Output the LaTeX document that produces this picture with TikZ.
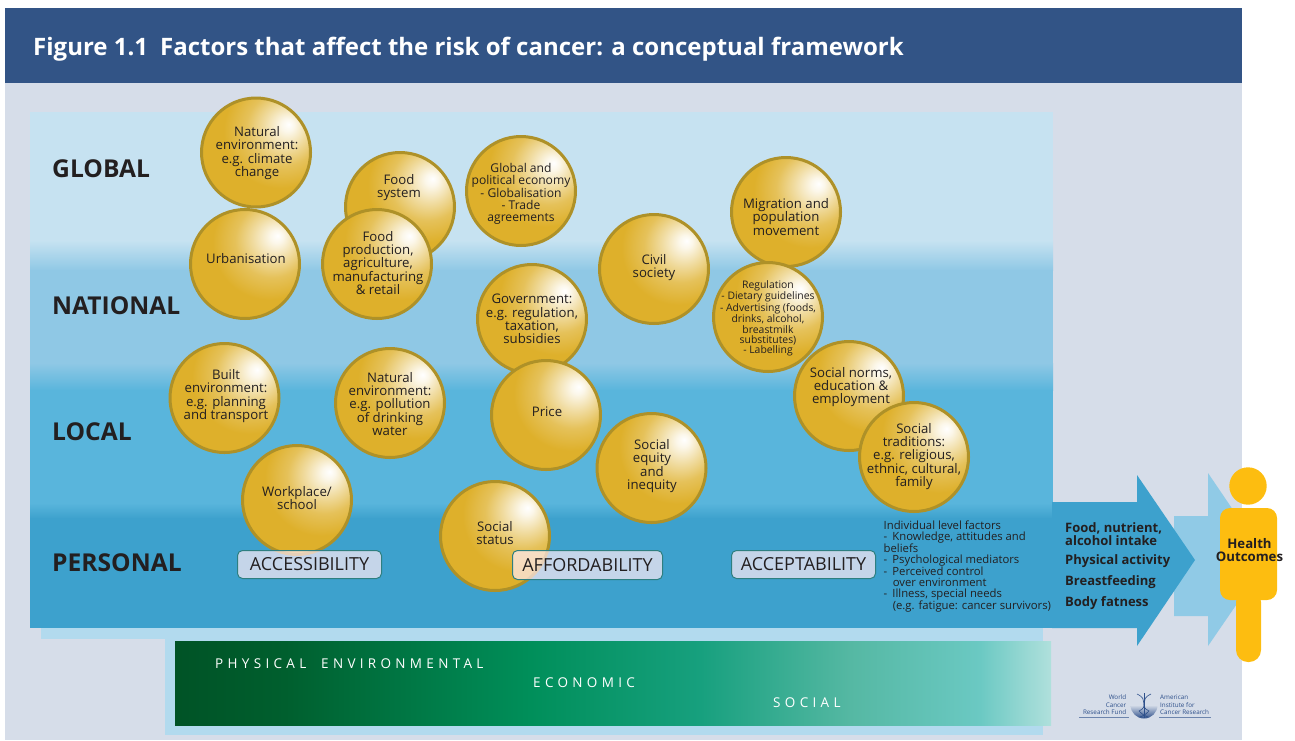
\documentclass[tikz,border=0pt]{standalone}
\usepackage{fontspec}
\setmainfont{Open Sans}
\newfontfamily\spaced[LetterSpace=32]{Open Sans}
\usetikzlibrary{shadings}
\definecolor{pagebg}{HTML}{D6DDE9}
\definecolor{headblue}{HTML}{325486}
\definecolor{skyA}{HTML}{C6E2F1}
\definecolor{skyB}{HTML}{8FC8E5}
\definecolor{skyC}{HTML}{59B5DC}
\definecolor{skyD}{HTML}{3DA1CD}
\definecolor{offsetblue}{HTML}{B2DAEE}
\definecolor{lightarrow}{HTML}{90CAE6}
\definecolor{ballfill}{HTML}{DEB02B}
\definecolor{ballline}{HTML}{AE9128}
\definecolor{ink}{HTML}{231F20}
\definecolor{person}{HTML}{FDBD10}
\definecolor{tagfill}{HTML}{FFECF6}
\definecolor{tagline}{HTML}{2E7F80}
\definecolor{gA}{HTML}{005326}
\definecolor{gB}{HTML}{005F2E}
\definecolor{gC}{HTML}{008F5A}
\definecolor{gD}{HTML}{17A07E}
\definecolor{gE}{HTML}{55B8A3}
\definecolor{gF}{HTML}{6BC9C3}
\definecolor{gG}{HTML}{B0E0DC}
\definecolor{logoblue}{HTML}{2D4F8A}
\pgfdeclareradialshading{goldball}{\pgfpoint{15bp}{13bp}}{%
  color(0bp)=(white);
  color(3bp)=(white!90!ballfill);
  color(10bp)=(white!55!ballfill);
  color(17bp)=(white!22!ballfill);
  color(26bp)=(ballfill);
  color(100bp)=(ballfill)}
\tikzset{
  ball/.style={circle,draw=ballline,line width=3pt,shading=goldball,minimum size=109pt,inner sep=0pt,outer sep=0pt},
  balltext/.style={align=center,text=ink,font=\fontsize{13.2}{13.4}\selectfont,inner sep=0pt},
  smalltext/.style={align=center,text=ink,font=\fontsize{12.1}{12}\selectfont,inner sep=0pt},
  tinytext/.style={align=center,text=ink,font=\fontsize{10.4}{10.35}\selectfont,inner sep=0pt},
  level/.style={anchor=west,text=ink,font=\fontsize{24.6}{25}\selectfont\bfseries,inner sep=0pt},
  tag/.style={draw=tagline,fill=tagfill,fill opacity=0.7,text opacity=1,rounded corners=5pt,line width=1pt,text=ink,font=\fontsize{18}{18}\selectfont,inner sep=0pt},
  outcome/.style={anchor=west,align=left,text=ink,font=\fontsize{13}{12.6}\selectfont\bfseries,inner sep=0pt},
  band/.style={anchor=west,text=white,font=\fontsize{13.5}{14}\spaced,inner sep=0pt},
  logotext/.style={text=logoblue,font=\fontsize{6.3}{7.6}\selectfont,inner sep=0pt},
}
\newcommand{\goldball}[7][balltext]{%
  \node[ball] (#2) at (#3,#4) {};
  \node[#1] (#2-text) at (#5,#6+1) {#7};
}
\begin{document}
\begin{tikzpicture}[x=1pt,y=-1pt]
\useasboundingbox (0,0) rectangle (1295,740);
% page
\fill[pagebg] (5,83) rectangle (1242,740);
\fill[headblue] (5,8) rectangle (1242,83);
\node[anchor=base west,text=white,font=\fontsize{24}{24}\selectfont\bfseries,inner sep=0pt] (title) at (33,55)
  {Figure 1.1\hspace{0.5em}Factors that affect the risk of cancer: a conceptual framework};
% offset bands behind panel
\fill[offsetblue] (41,120) rectangle (1043,639);
\fill[offsetblue] (165,630) rectangle (1043,735);
% panel
\fill[skyA] (30,112) rectangle (1053,241);
\shade[top color=skyA,bottom color=skyB] (30,240.5) rectangle (1053,270.5);
\fill[skyB] (30,270) rectangle (1053,363.5);
\shade[top color=skyB,bottom color=skyC] (30,363) rectangle (1053,390.5);
\fill[skyC] (30,390) rectangle (1053,503.5);
\shade[top color=skyC,bottom color=skyD] (30,503) rectangle (1053,518.5);
\fill[skyD] (30,518) rectangle (1053,628);
% arrows
\fill[lightarrow] (1174,516) -- (1208,516) -- (1208,473) -- (1267,560) -- (1208,646) -- (1208,616) -- (1174,616) -- cycle;
\fill[skyD] (1052,502) -- (1137,502) -- (1137,475) -- (1195,560) -- (1137,646) -- (1137,628) -- (1052,628) -- cycle;
% colour bar
\shade[left color=gA,right color=gB] (175,641) rectangle (285.5,725);
\shade[left color=gB,right color=gC] (285,641) rectangle (530.5,725);
\shade[left color=gC,right color=gD] (530,641) rectangle (700.5,725);
\shade[left color=gD,right color=gE] (700,641) rectangle (850.5,725);
\shade[left color=gE,right color=gF] (850,641) rectangle (980.5,725);
\shade[left color=gF,right color=gG] (980,641) rectangle (1051,725);
\node[band] (physical) at (215,664) {PHYSICAL\hspace{1.1em}ENVIRONMENTAL};
\node[band] (economic) at (533,683) {ECONOMIC};
\node[band] (social) at (773,703) {SOCIAL};
% levels
\node[level] (global) at (52,169) {GLOBAL};
\node[level] (national) at (52,306) {NATIONAL};
\node[level] (local) at (52,432) {LOCAL};
\node[level] (personal) at (52,563) {PERSONAL};
% balls
\goldball{foodsystem}{400}{207}{399}{186.5}{Food\\system}
\goldball{naturalglobal}{256}{152.5}{257}{152}{Natural\\environment:\\e.g. climate\\change}
\goldball{urban}{245}{264}{246}{258}{Urbanisation}
\goldball{foodprod}{377}{264}{378}{262}{Food\\production,\\agriculture,\\manufacturing\\\& retail}
\goldball[smalltext]{globalecon}{521}{191}{521}{193}{Global and\\political economy\\- Globalisation\\- Trade\\agreements}
\goldball{civil}{654}{269}{654}{266.5}{Civil\\society}
\goldball{migration}{786}{212}{786}{216}{Migration and\\population\\movement}
\goldball{government}{532}{319}{532}{318}{Government:\\e.g. regulation,\\taxation,\\subsidies}
\goldball[tinytext]{regulation}{768}{317}{768}{317.5}{Regulation\\- Dietary guidelines\\- Advertising (foods,\\drinks, alcohol,\\breastmilk\\substitutes)\\- Labelling}
\goldball{norms}{849}{396}{851}{386}{Social norms,\\education \&\\employment}
\goldball{traditions}{914}{457}{914}{455.5}{Social\\traditions:\\e.g. religious,\\ethnic, cultural,\\family}
\goldball{built}{224.5}{398}{226}{395}{Built\\environment:\\e.g. planning\\and transport}
\goldball{naturallocal}{390}{403}{390}{403}{Natural\\environment:\\e.g. pollution\\of drinking\\water}
\goldball{price}{546}{415}{547}{411}{Price}
\goldball{equity}{651.5}{468}{652}{465}{Social\\equity\\and\\inequity}
\goldball{workplace}{297}{500}{297}{497}{Workplace/\\school}
\goldball{status}{495}{536}{495}{532}{Social\\status}
% tags
\node[tag,minimum width=144pt,minimum height=28pt] (accessibility) at (309.5,564.5) {ACCESSIBILITY};
\node[tag,minimum width=150pt,minimum height=29pt] (affordability) at (587.5,565) {AFFORDABILITY};
\node[tag,minimum width=144pt,minimum height=28pt] (acceptability) at (803.5,564.5) {ACCEPTABILITY};
% individual factors
\node[anchor=north west,align=left,text=ink,font=\fontsize{11.3}{11.42}\selectfont,inner sep=0pt] (individual) at (883.5,520.5)
  {Individual level factors\\
   -\hspace{0.45em}Knowledge, attitudes and\\
   beliefs\\
   -\hspace{0.45em}Psychological mediators\\
   -\hspace{0.45em}Perceived control\\
   \hspace*{0.8em}over environment\\
   -\hspace{0.45em}Illness, special needs\\
   \hspace*{0.8em}(e.g. fatigue: cancer survivors)};
% outcome labels
\node[outcome] (intake) at (1065,534) {Food, nutrient,\\alcohol intake};
\node[outcome] (activity) at (1065,561.5) {Physical activity};
\node[outcome] (breast) at (1065,582) {Breastfeeding};
\node[outcome] (fatness) at (1065,603.5) {Body fatness};
% person
\fill[person] (1248,486) circle (18.7);
\fill[person,rounded corners=12pt] (1236,590) rectangle (1261,662);
\fill[person,rounded corners=10pt] (1220,508) rectangle (1277,600);
\node[align=center,text=ink,font=\fontsize{13.2}{13}\selectfont\bfseries,inner sep=0pt] (health) at (1249.5,550.5) {Health\\Outcomes};
% logo
\node[logotext,anchor=east,align=right] (wcrf) at (1126.5,705) {World\\Cancer\\Research Fund};
\node[logotext,anchor=west,align=left] (aicr) at (1160,705) {American\\Institute for\\Cancer Research};
\draw[logoblue!70,line width=0.6pt] (1079,717.5) -- (1129,717.5);
\draw[logoblue!70,line width=0.6pt] (1159,717.5) -- (1211,717.5);
\shade[top color=pagebg,bottom color=logoblue] (1130.5,705) arc[start angle=180,end angle=360,x radius=13.5,y radius=-13.5] -- cycle;
\draw[logoblue,line width=0.7pt] (1144,693) -- (1144,718);
\draw[logoblue,line width=0.6pt] (1137,694) .. controls (1150,700) and (1138,706) .. (1149,711) .. controls (1145,715) and (1143,716) .. (1140,717);
\draw[logoblue,line width=0.6pt] (1151,694) .. controls (1138,700) and (1150,706) .. (1139,711) .. controls (1143,715) and (1145,716) .. (1148,717);
\end{tikzpicture}
\end{document}
